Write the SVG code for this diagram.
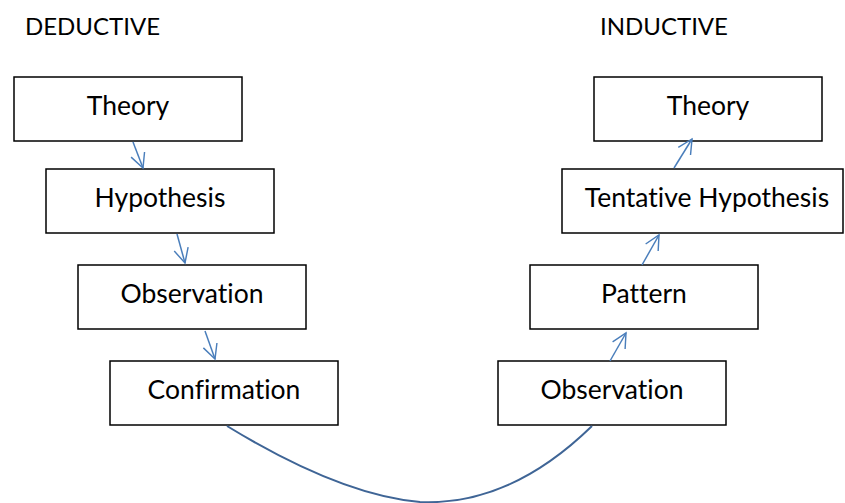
<svg xmlns="http://www.w3.org/2000/svg" width="845" height="503" viewBox="0 0 845 503">
  <style>
    .box { fill: #ffffff; stroke: #000000; stroke-width: 1.5; }
    .lbl { font-family: Lato, "Open Sans", "Liberation Sans", sans-serif; font-size: 26.5px; fill: #000000; text-anchor: middle; font-variant-ligatures: none; }
    .head { font-family: Lato, "Open Sans", "Liberation Sans", sans-serif; font-size: 24px; fill: #000000; font-variant-ligatures: none; }
    .arrow { fill: none; stroke: #4a7ebb; stroke-width: 1.5; marker-end: url(#vhead); }
    .swoop { fill: none; stroke: #3f6596; stroke-width: 2; }
  </style>
  <defs>
    <marker id="vhead" viewBox="0 0 20 20" refX="18" refY="10" markerWidth="18" markerHeight="18" markerUnits="userSpaceOnUse" orient="auto">
      <path d="M2,2 L18,10 L2,18" fill="none" stroke="#4a7ebb" stroke-width="1.6"/>
    </marker>
  </defs>
  <rect width="845" height="503" fill="#ffffff"/>

  <text class="head" x="25" y="35">DEDUCTIVE</text>
  <text class="head" x="600" y="35">INDUCTIVE</text>

  <!-- deductive column -->
  <g id="ded-theory"><rect class="box" x="14" y="77" width="228" height="64"/><text class="lbl" x="128" y="115">Theory</text></g>
  <g id="ded-hypothesis"><rect class="box" x="46" y="169" width="228" height="64"/><text class="lbl" x="160" y="207">Hypothesis</text></g>
  <g id="ded-observation"><rect class="box" x="78" y="265" width="228" height="64"/><text class="lbl" x="192" y="303">Observation</text></g>
  <g id="ded-confirmation"><rect class="box" x="110" y="361" width="228" height="64"/><text class="lbl" x="224" y="399">Confirmation</text></g>

  <!-- inductive column -->
  <g id="ind-theory"><rect class="box" x="594" y="77" width="228" height="64"/><text class="lbl" x="708" y="115">Theory</text></g>
  <g id="ind-tentative"><rect class="box" x="562" y="169" width="281" height="64"/><text class="lbl" x="707" y="207">Tentative Hypothesis</text></g>
  <g id="ind-pattern"><rect class="box" x="530" y="265" width="228" height="64"/><text class="lbl" x="644" y="303">Pattern</text></g>
  <g id="ind-observation"><rect class="box" x="498" y="361" width="228" height="64"/><text class="lbl" x="612" y="399">Observation</text></g>

  <g id="connectors">
    <path class="arrow" d="M133,142 L143,168"/>
    <path class="arrow" d="M177,234 L185,263"/>
    <path class="arrow" d="M205,331 L215,359"/>
    <path class="arrow" d="M610,361 L626,333"/>
    <path class="arrow" d="M642,265 L659,235"/>
    <path class="arrow" d="M674,168 L692,139"/>
    <path class="swoop" d="M227,426 Q340,495 420,502 Q510,506 592,426"/>
  </g>
</svg>
